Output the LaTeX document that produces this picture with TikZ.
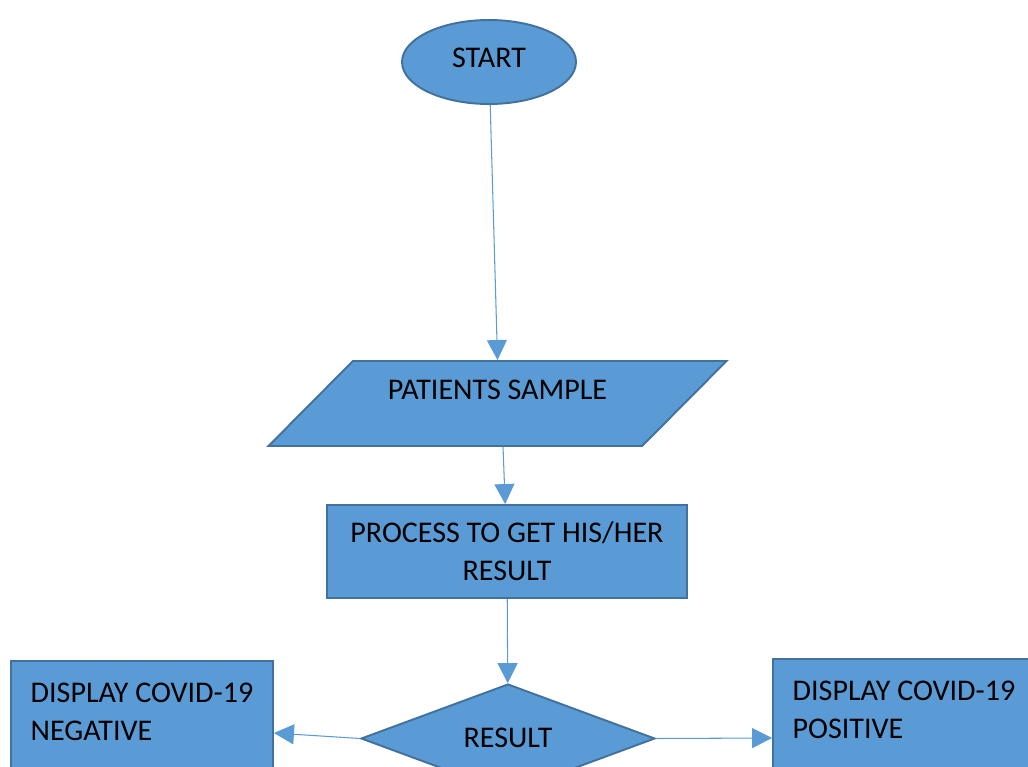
\documentclass[tikz,border=0pt]{standalone}
\usepackage{fontspec}
\setmainfont{Carlito}
\usetikzlibrary{arrows.meta,shapes.geometric}
\definecolor{fillblue}{HTML}{5B9BD5}
\definecolor{lineblue}{HTML}{41719C}

\begin{document}
\begin{tikzpicture}[x=0.02cm,y=-0.02cm,
                    every node/.style={font=\fontsize{17.1}{21.6}\selectfont},
                    main node/.style={draw=lineblue,fill=fillblue,line width=1.1pt,inner sep=0pt},
                    start node/.style={main node,ellipse,minimum width=3.48cm,minimum height=1.68cm,
                                       text height=0.39cm,text depth=0.18cm},
                    io node/.style={main node,trapezium,trapezium stretches=true,trapezium left angle=36,
                                    trapezium right angle=144,minimum width=9.18cm,minimum height=1.7cm,
                                    text height=0.39cm,text depth=0.54cm},
                    box node/.style={main node,rectangle,align=center,text height=1.15cm,text depth=0cm},
                    test node/.style={main node,diamond,shape aspect=2.7,minimum width=5.88cm,minimum height=2.18cm,
                                      text height=0.39cm,text depth=0.05cm},
                    show node/.style={main node,rectangle,align=left,minimum width=5.24cm,text height=1.15cm}]

  \useasboundingbox (0,0) rectangle (1028,767);
  \clip (0,0) rectangle (1028,767);

  \node[start node] (start) at (489,62) {START};
  \node[io node] (sample) at (497.5,403.5) {PATIENTS SAMPLE};
  \node[box node,minimum width=7.2cm,minimum height=1.86cm] (process) at (507,551.5)
    {PROCESS TO GET HIS/HER\\RESULT};
  \node[test node] (result) at (508,738.5) {RESULT};
  \node[show node,minimum height=2.88cm,text depth=0.87cm] (negative) at (142,733)
    {DISPLAY COVID-19\\NEGATIVE};
  \node[show node,minimum height=3.16cm,text depth=1.15cm] (positive) at (904,738)
    {DISPLAY COVID-19\\POSITIVE};

  \path[every edge/.style={draw=fillblue,line width=0.6pt,-{Triangle[length=0.4cm,width=0.4cm]}}]
    (start) edge (sample.north)
    ([xshift=0.11cm]sample.south) edge (process)
    (process) edge (result)
    (result.west) edge (negative.east)
    (result.east) edge (positive.west);
\end{tikzpicture}
\end{document}
